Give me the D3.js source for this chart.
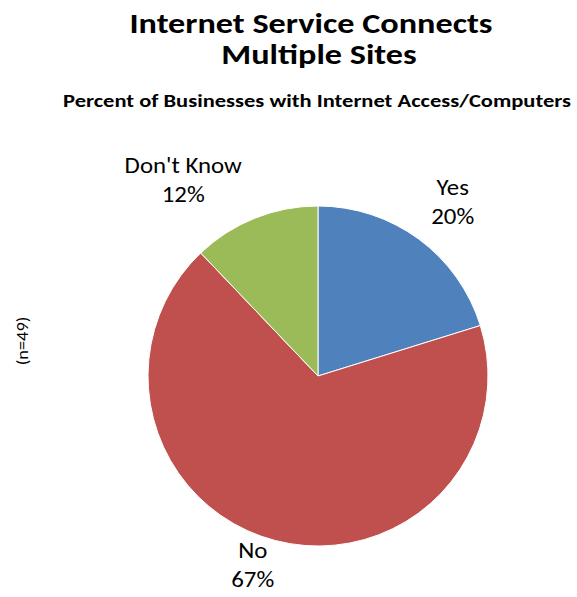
<!DOCTYPE html>
<html>
<head>
<meta charset="utf-8">
<script src="https://cdn.jsdelivr.net/npm/d3@7"></script>
<style>
  html, body { margin: 0; padding: 0; background: #fff; }
  svg { display: block; font-family: Carlito, Calibri, Lato, "Open Sans", sans-serif; }
</style>
</head>
<body>
<svg id="chart" width="577" height="597"></svg>
<script>
// Survey answers and their shares (percent)
const categories = ["Yes", "No", "Don't Know"];
const values = [20, 67, 12];
const colors = ["#4F81BD", "#C0504D", "#9BBB59"];

const titleLines = ["Internet Service Connects", "Multiple Sites"];
const subtitle = "Percent of Businesses with Internet Access/Computers";
const sampleNote = "(n=49)";

const svg = d3.select("#chart");
const cx = 318, cy = 376, radius = 170;

// Widen text horizontally by a factor, keeping its anchor
function stretch(sel, factor) {
  sel.each(function () {
    const w = this.getComputedTextLength();
    d3.select(this)
      .attr("textLength", w * factor)
      .attr("lengthAdjust", "spacingAndGlyphs");
  });
  return sel;
}

// Titles
const titleX = [311, 319];
svg.selectAll("text.title")
  .data(titleLines)
  .join("text")
  .attr("class", "title")
  .attr("x", (d, i) => titleX[i])
  .attr("y", (d, i) => 33 + i * 31)
  .attr("text-anchor", "middle")
  .attr("font-weight", "bold")
  .attr("font-size", 29)
  .attr("fill", "#000")
  .text(d => d)
  .call(stretch, 1.18);

svg.append("text")
  .attr("x", 317)
  .attr("y", 107)
  .attr("text-anchor", "middle")
  .attr("font-weight", "bold")
  .attr("font-size", 18)
  .attr("fill", "#000")
  .text(subtitle)
  .call(stretch, 1.25);

// Sample-size note, rotated along the left edge
svg.append("text")
  .attr("transform", "translate(28,341) rotate(-90)")
  .attr("text-anchor", "middle")
  .attr("font-size", 16)
  .attr("fill", "#000")
  .text(sampleNote)
  .call(stretch, 1.15);

// Pie starting at 12 o'clock, running clockwise in data order
const pie = d3.pie().sort(null).value(d => d.value);
const arcs = pie(categories.map((c, i) => ({ name: c, value: values[i], color: colors[i] })));
const arc = d3.arc().innerRadius(0).outerRadius(radius);

const g = svg.append("g").attr("transform", `translate(${cx},${cy})`);
g.selectAll("path")
  .data(arcs)
  .join("path")
  .attr("d", arc)
  .attr("fill", d => d.data.color)
  .attr("stroke", "#fff")
  .attr("stroke-width", 1);

// Outside labels: category name above its percent, nudged off the centroid ring
const labelArc = d3.arc().innerRadius(212).outerRadius(212);
const labelNudge = { "Yes": [9, -10], "No": [-12, -23], "Don't Know": [-56, -6] };
const labels = g.selectAll("g.label")
  .data(arcs)
  .join("g")
  .attr("class", "label")
  .attr("transform", d => {
    const [x, y] = labelArc.centroid(d);
    const [nx, ny] = labelNudge[d.data.name];
    return `translate(${x + nx},${y + ny})`;
  });

labels.append("text")
  .attr("text-anchor", "middle")
  .attr("font-size", 22)
  .attr("fill", "#000")
  .attr("y", 0)
  .text(d => d.data.name)
  .call(stretch, 1.13);

labels.append("text")
  .attr("text-anchor", "middle")
  .attr("font-size", 22)
  .attr("fill", "#000")
  .attr("y", 29)
  .text(d => d.data.value + "%")
  .call(stretch, 1.13);
</script>
</body>
</html>
